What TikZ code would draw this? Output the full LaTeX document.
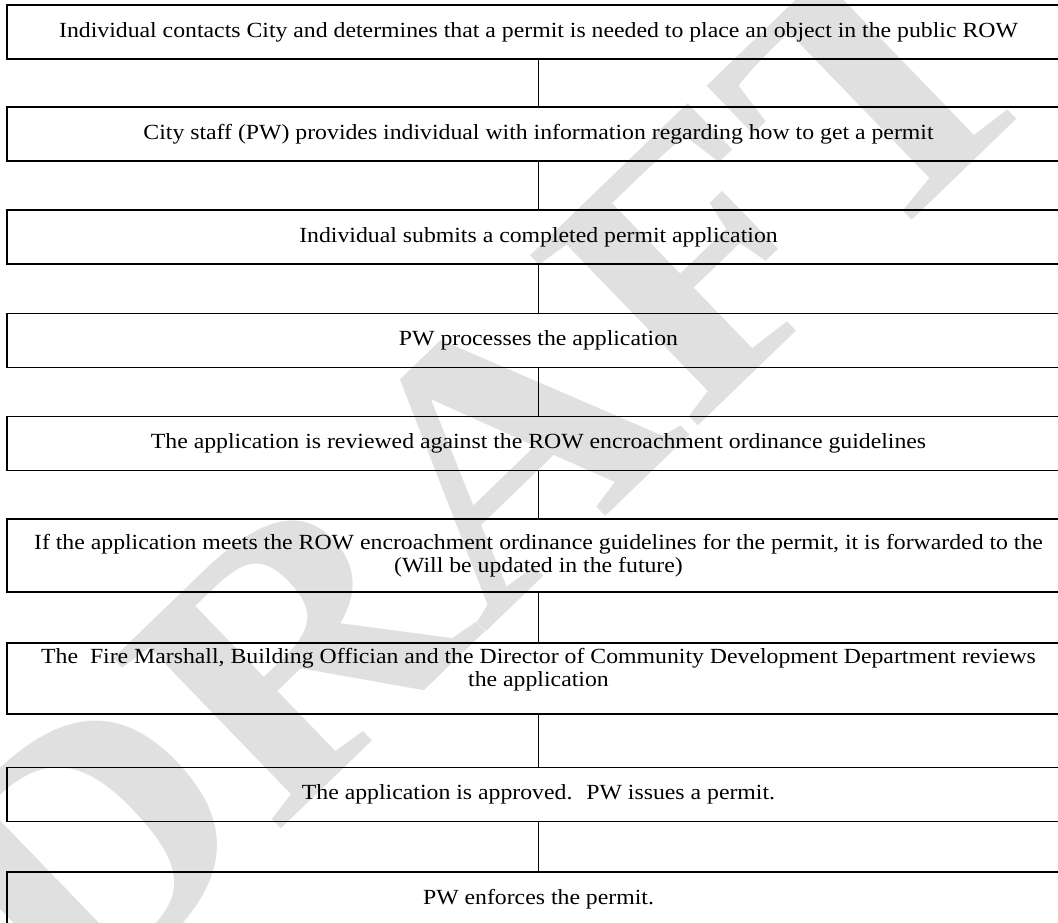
\documentclass[tikz,border=0pt]{standalone}
\usepackage{fontspec}
\setmainfont{Liberation Serif}[FakeStretch=1.1]
\usepackage{color}

\begin{document}
\begin{tikzpicture}[%
      x=1pt, y=1pt,
      stepbox/.style={draw=black, line width=1.5pt, minimum width=1063pt,
        minimum height=54pt, align=center, inner sep=0pt,
        font=\fontsize{21.6}{23}\selectfont},
      link/.style={draw=black, line width=1.2pt},
      ]
      \useasboundingbox (0,0) rectangle (1058,-922);
      \clip (0,0) rectangle (1058,-922);
      \fill [white] (0,0) rectangle (1058,-922);

      % watermark
      \node [rotate=44, text=black!12,
        font=\fontsize{365}{365}\selectfont\bfseries] (draft) at (480,-470) {DRAFT};

      \node [stepbox] (contact) at (538.5,-32) {Individual contacts City and determines that a permit is needed to place an object in the public ROW};
      \node [stepbox] (info) at (538.5,-134) {City staff (PW) provides individual with information regarding how to get a permit};
      \node [stepbox] (submit) at (538.5,-237) {Individual submits a completed permit application};
      \node [stepbox] (process) at (538.5,-340.5) {PW processes the application};
      \node [stepbox] (review) at (538.5,-443.5) {The application is reviewed against the ROW encroachment ordinance guidelines};
      \node [stepbox, minimum height=73pt] (forward) at (538.5,-555.5) {If the application meets the ROW encroachment ordinance guidelines for the permit, it is forwarded to the\\(Will be updated in the future)};
      \node [stepbox, minimum height=71pt, text depth=22pt] (officials) at (538.5,-678.5) {The~ Fire Marshall, Building Offician and the Director of Community Development Department reviews\\the application};
      \node [stepbox] (approve) at (538.5,-794.5) {The application is approved.~ PW issues a permit.};
      \node [stepbox] (enforce) at (538.5,-899) {PW enforces the permit.};

      \draw [link] (contact) -- (info);
      \draw [link] (info) -- (submit);
      \draw [link] (submit) -- (process);
      \draw [link] (process) -- (review);
      \draw [link] (review) -- (forward);
      \draw [link] (forward) -- (officials);
      \draw [link] (officials) -- (approve);
      \draw [link] (approve) -- (enforce);
\end{tikzpicture}
\end{document}
